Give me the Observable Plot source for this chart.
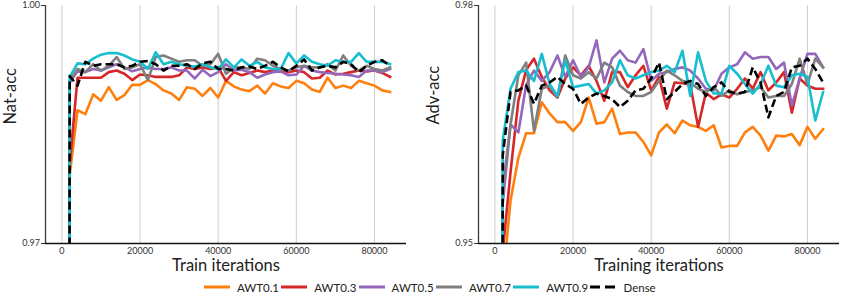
<!DOCTYPE html>
<html>
<head>
<meta charset="utf-8">
<script src="https://cdn.jsdelivr.net/npm/d3@7"></script>
<script src="https://cdn.jsdelivr.net/npm/@observablehq/plot@0.6"></script>
<style>
  html, body { margin: 0; padding: 0; background: #fff; }
  body { width: 841px; height: 293px; overflow: hidden; font-family: Lato, "Open Sans", sans-serif; position: relative; }
  #row { display: flex; }
  #legend { position: absolute; left: 204px; top: 279px; height: 16px; display: flex; align-items: center; font-size: 11.5px; color: #222; }
  .item { display: flex; align-items: center; width: 77.3px; }
  .item svg { margin-right: 7px; }
</style>
</head>
<body>
<div id="row"></div>
<div id="legend"></div>
<script>
// Iterations (x values)
const iterations = [0, 2000, 4000, 6000, 8000, 10000, 12000, 14000, 16000, 18000, 20000, 22000, 24000, 26000, 28000, 30000, 32000, 34000, 36000, 38000, 40000, 42000, 44000, 46000, 48000, 50000, 52000, 54000, 56000, 58000, 60000, 62000, 64000, 66000, 68000, 70000, 72000, 74000, 76000, 78000, 80000, 82000, 84000];
const xTicks = [0, 20000, 40000, 60000, 80000];
const seriesNames = ["AWT0.1", "AWT0.3", "AWT0.5", "AWT0.7", "AWT0.9", "Dense"];
const seriesColors = ["#ff7f0e", "#d62728", "#9467bd", "#7f7f7f", "#17becf", "#000000"];

// Left panel: natural accuracy
const natAWT01 = [0.1, 0.9787, 0.9868, 0.9863, 0.9888, 0.9880, 0.9897, 0.9881, 0.9887, 0.9900, 0.9900, 0.9906, 0.9901, 0.9893, 0.9889, 0.9881, 0.9897, 0.9895, 0.9886, 0.9896, 0.9884, 0.9905, 0.9898, 0.9894, 0.9892, 0.9899, 0.9889, 0.9902, 0.9898, 0.9896, 0.9905, 0.9902, 0.9894, 0.9891, 0.9909, 0.9896, 0.9899, 0.9896, 0.9905, 0.9902, 0.9899, 0.9893, 0.9891];
const natAWT03 = [0.1, 0.9800, 0.9909, 0.9909, 0.9909, 0.9909, 0.9916, 0.9918, 0.9914, 0.9906, 0.9913, 0.9912, 0.9910, 0.9910, 0.9910, 0.9912, 0.9922, 0.9920, 0.9922, 0.9920, 0.9922, 0.9905, 0.9916, 0.9912, 0.9915, 0.9918, 0.9916, 0.9918, 0.9917, 0.9916, 0.9918, 0.9916, 0.9908, 0.9909, 0.9918, 0.9913, 0.9914, 0.9916, 0.9918, 0.9917, 0.9918, 0.9915, 0.9910];
const natAWT05 = [0.1, 0.9903, 0.9917, 0.9916, 0.9920, 0.9918, 0.9922, 0.9926, 0.9922, 0.9917, 0.9920, 0.9922, 0.9920, 0.9920, 0.9922, 0.9918, 0.9918, 0.9908, 0.9919, 0.9911, 0.9916, 0.9926, 0.9918, 0.9919, 0.9916, 0.9909, 0.9913, 0.9916, 0.9917, 0.9912, 0.9913, 0.9924, 0.9918, 0.9916, 0.9915, 0.9914, 0.9913, 0.9912, 0.9910, 0.9918, 0.9918, 0.9916, 0.9920];
const natAWT07 = [0.1, 0.9905, 0.9920, 0.9916, 0.9926, 0.9918, 0.9924, 0.9935, 0.9920, 0.9922, 0.9926, 0.9906, 0.9935, 0.9937, 0.9933, 0.9929, 0.9931, 0.9931, 0.9924, 0.9926, 0.9939, 0.9914, 0.9922, 0.9922, 0.9920, 0.9933, 0.9931, 0.9924, 0.9920, 0.9918, 0.9922, 0.9924, 0.9922, 0.9922, 0.9926, 0.9918, 0.9937, 0.9924, 0.9918, 0.9924, 0.9920, 0.9918, 0.9922];
const natAWT09 = [0.1, 0.9910, 0.9927, 0.9926, 0.9933, 0.9938, 0.9940, 0.9940, 0.9937, 0.9932, 0.9929, 0.9920, 0.9941, 0.9926, 0.9929, 0.9926, 0.9924, 0.9923, 0.9926, 0.9922, 0.9920, 0.9932, 0.9922, 0.9932, 0.9924, 0.9929, 0.9922, 0.9920, 0.9920, 0.9940, 0.9927, 0.9937, 0.9929, 0.9926, 0.9924, 0.9931, 0.9929, 0.9929, 0.9940, 0.9929, 0.9929, 0.9929, 0.9926];
const natDense = [0.1, 0.9911, 0.9899, 0.9929, 0.9924, 0.9926, 0.9926, 0.9926, 0.9922, 0.9924, 0.9929, 0.9930, 0.9926, 0.9918, 0.9924, 0.9924, 0.9926, 0.9920, 0.9927, 0.9929, 0.9920, 0.9920, 0.9918, 0.9922, 0.9923, 0.9920, 0.9924, 0.9929, 0.9922, 0.9917, 0.9924, 0.9932, 0.9918, 0.9922, 0.9924, 0.9922, 0.9929, 0.9926, 0.9916, 0.9924, 0.9929, 0.9931, 0.9924];

// Right panel: adversarial accuracy
const advAWT01 = [0.1, 0.945, 0.9554, 0.9608, 0.9639, 0.9639, 0.9678, 0.9664, 0.9653, 0.9653, 0.9642, 0.9653, 0.9684, 0.9651, 0.9653, 0.9670, 0.9638, 0.9640, 0.9640, 0.9628, 0.9611, 0.9640, 0.9650, 0.9639, 0.9655, 0.9649, 0.9647, 0.9642, 0.9649, 0.9621, 0.9623, 0.9623, 0.9640, 0.9647, 0.9636, 0.9617, 0.9636, 0.9635, 0.9638, 0.9624, 0.9647, 0.9632, 0.9644];
const advAWT03 = [0.1, 0.949, 0.959, 0.968, 0.9719, 0.9733, 0.9710, 0.9693, 0.9684, 0.9708, 0.9722, 0.9712, 0.9724, 0.9705, 0.9680, 0.9716, 0.9716, 0.9697, 0.9712, 0.9724, 0.9693, 0.9710, 0.9670, 0.9703, 0.9702, 0.9700, 0.9647, 0.9690, 0.9682, 0.9688, 0.9684, 0.9695, 0.9708, 0.9695, 0.9716, 0.9693, 0.9703, 0.9716, 0.9665, 0.9708, 0.9699, 0.9695, 0.9695];
const advAWT05 = [0.1, 0.955, 0.9650, 0.9640, 0.9700, 0.9718, 0.9705, 0.9716, 0.9737, 0.9710, 0.9731, 0.9710, 0.9722, 0.9756, 0.9703, 0.9733, 0.9743, 0.9731, 0.9728, 0.9745, 0.9705, 0.9714, 0.9716, 0.9720, 0.9722, 0.9718, 0.9708, 0.9695, 0.9693, 0.9714, 0.9722, 0.9726, 0.9741, 0.9733, 0.9735, 0.9735, 0.9720, 0.9728, 0.9674, 0.9708, 0.9739, 0.9739, 0.9722];
const advAWT07 = [0.1, 0.957, 0.9650, 0.9712, 0.9728, 0.9642, 0.9695, 0.9699, 0.9684, 0.9737, 0.9712, 0.9708, 0.9716, 0.9708, 0.9728, 0.9722, 0.9699, 0.9691, 0.9686, 0.9686, 0.9691, 0.9705, 0.9718, 0.9712, 0.9705, 0.9703, 0.9695, 0.9691, 0.9697, 0.9686, 0.9693, 0.9688, 0.9691, 0.9693, 0.9697, 0.9684, 0.9686, 0.9686, 0.9701, 0.9733, 0.9701, 0.9733, 0.9722];
const advAWT09 = [0.1, 0.963, 0.9695, 0.9716, 0.9718, 0.9705, 0.9739, 0.9701, 0.9686, 0.9731, 0.9697, 0.9699, 0.9701, 0.9689, 0.9693, 0.9703, 0.9731, 0.9712, 0.9708, 0.9712, 0.9716, 0.9718, 0.9724, 0.9716, 0.9743, 0.9686, 0.9741, 0.9705, 0.9689, 0.9689, 0.9724, 0.9714, 0.9701, 0.9689, 0.9701, 0.9724, 0.9699, 0.9697, 0.9712, 0.9714, 0.9710, 0.9655, 0.9691];
const advDense = [0.1, 0.9611, 0.9691, 0.9693, 0.9699, 0.9676, 0.9699, 0.9703, 0.9710, 0.9701, 0.9695, 0.9676, 0.9684, 0.9689, 0.9686, 0.9682, 0.9672, 0.9680, 0.9693, 0.9695, 0.9708, 0.9728, 0.9682, 0.9691, 0.9701, 0.9705, 0.9701, 0.9686, 0.9697, 0.9703, 0.9691, 0.9689, 0.9691, 0.9722, 0.9703, 0.9659, 0.9686, 0.9691, 0.9722, 0.9724, 0.9733, 0.9720, 0.9703];

const xDomain = [-4200, 88200];

function panel({values, yDomain, yLabel, xLabel, width, marginLeft, marginRight, yLabelDx}) {
  const lineMarks = values.map((vals, i) => {
    const data = iterations.map((it, j) => ({x: it, y: vals[j]}));
    const dashed = seriesNames[i] === "Dense";
    return Plot.line(data, {
      x: "x", y: "y",
      stroke: seriesColors[i],
      strokeWidth: 2.6,
      strokeDasharray: dashed ? "8,4" : null,
      strokeLinejoin: "round",
      strokeLinecap: dashed ? "butt" : "square",
      clip: true
    });
  });
  return Plot.plot({
    width, height: 275,
    marginLeft, marginRight, marginTop: 5, marginBottom: 32,
    style: {fontFamily: "Lato, 'Open Sans', sans-serif", background: "white", overflow: "visible"},
    x: {domain: xDomain},
    y: {domain: yDomain},
    marks: [
      Plot.gridX(xTicks, {stroke: "#cfcfcf", strokeOpacity: 1, strokeWidth: 1}),
      ...lineMarks,
      Plot.ruleX([xDomain[0]], {stroke: "#3a3a3a", strokeWidth: 1.3}),
      Plot.ruleY([yDomain[0]], {stroke: "#111", strokeWidth: 1.3}),
      Plot.axisX(xTicks, {tickSize: 0, tickPadding: 4, tickFormat: d => String(d), label: null, fontSize: 9, color: "#333"}),
      Plot.axisY(yDomain, {tickSize: 4, tickPadding: 1.5, tickFormat: ".2f", label: null, fontSize: 9, color: "#333"}),
      Plot.text([xLabel], {frameAnchor: "bottom", dy: 27, fontSize: 16.5, fill: "#222", text: d => d}),
      Plot.text([yLabel], {frameAnchor: "left", dx: yLabelDx, rotate: -90, fontSize: 16.5, fill: "#222", text: d => d})
    ]
  });
}

const row = document.getElementById("row");
row.appendChild(panel({
  values: [natAWT01, natAWT03, natAWT05, natAWT07, natAWT09, natDense],
  yDomain: [0.97, 1.00], yLabel: "Nat-acc", xLabel: "Train iterations",
  width: 420, marginLeft: 45, marginRight: 14, yLabelDx: -35
}));
row.appendChild(panel({
  values: [advAWT01, advAWT03, advAWT05, advAWT07, advAWT09, advDense],
  yDomain: [0.95, 0.98], yLabel: "Adv-acc", xLabel: "Training iterations",
  width: 421, marginLeft: 58, marginRight: 2, yLabelDx: -45
}));

const legend = document.getElementById("legend");
seriesNames.forEach((name, i) => {
  const item = document.createElement("div");
  item.className = "item";
  const dashed = name === "Dense";
  item.innerHTML = `<svg width="26" height="6"><line x1="0" y1="3" x2="26" y2="3" stroke="${seriesColors[i]}" stroke-width="3" ${dashed ? 'stroke-dasharray="10,5"' : ''}/></svg><span>${name}</span>`;
  legend.appendChild(item);
});
</script>
</body>
</html>
